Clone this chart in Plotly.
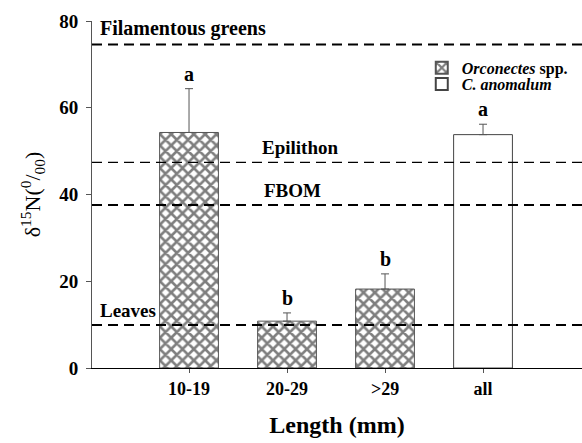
import plotly.graph_objects as go

# ---- data ----
categories = ["10-19", "20-29", ">29", "all"]
orc_values = [54.3, 10.8, 18.2]
orc_err = [10.1, 1.9, 3.5]
can_values = [53.8]
can_err = [2.4]
sig_letters = ["a", "b", "b", "a"]
ref_names = ["Filamentous greens", "Epilithon", "FBOM", "Leaves"]
ref_values = [74.6, 47.4, 37.6, 9.9]

FONT = "Liberation Serif"
xpos = list(range(len(categories)))

fig = go.Figure()
fig.add_trace(go.Bar(
    x=xpos[:3], y=orc_values, width=0.6,
    name="<b><i>Orconectes</i> spp.</b>", legend="legend",
    marker=dict(color="white", line=dict(color="#555", width=1),
                pattern=dict(shape="x", fgcolor="black", bgcolor="white", size=8, solidity=0.55)),
    error_y=dict(type="data", array=orc_err, arrayminus=[0]*3, color="#555", thickness=1, width=4),
))
fig.add_trace(go.Bar(
    x=xpos[3:], y=can_values, width=0.6,
    name="<b><i>C. anomalum</i></b>", legend="legend2",
    marker=dict(color="white", line=dict(color="#444", width=1)),
    error_y=dict(type="data", array=can_err, arrayminus=[0], color="#555", thickness=1, width=4),
))

# reference lines
ref_widths = [2, 1.3, 2, 2]
for v, w in zip(ref_values, ref_widths):
    fig.add_shape(type="line", xref="paper", x0=0, x1=1, yref="y", y0=v, y1=v,
                  line=dict(color="black", width=w, dash="10px,6px"), layer="above")

ref_label_x = [-0.93, 0.72, 0.74, -0.93]
ref_label_size = [20, 19, 19, 19]
for name, v, lx, sz in zip(ref_names, ref_values, ref_label_x, ref_label_size):
    fig.add_annotation(x=lx, y=v, xref="x", yref="y", text=name, showarrow=False,
                       xanchor="left", yanchor="bottom", yshift=2,
                       font=dict(family=FONT, size=sz, color="black", weight="bold"))

# significance letters
tops = [v + e for v, e in zip(orc_values + can_values, orc_err + can_err)]
for x, t, letter in zip(xpos, tops, sig_letters):
    fig.add_annotation(x=x, y=t, xref="x", yref="y", text=letter, showarrow=False,
                       yanchor="bottom", yshift=2,
                       font=dict(family=FONT, size=20, color="black", weight="bold"))

legend_common = dict(xanchor="left", yanchor="middle", bgcolor="rgba(0,0,0,0)",
                     font=dict(family=FONT, size=16, color="black"), itemsizing="constant")

fig.update_layout(
    width=582, height=443,
    margin=dict(l=92, r=0, t=21, b=75, autoexpand=False),
    paper_bgcolor="white", plot_bgcolor="white",
    barmode="overlay",
    showlegend=True,
    legend=dict(x=0.673, y=0.865, **legend_common),
    legend2=dict(x=0.673, y=0.818, **legend_common),
    xaxis=dict(range=[-0.99, 4.01], tickvals=xpos, ticktext=categories, automargin=False,
               showgrid=False, zeroline=False, showline=True, linecolor="black", linewidth=1,
               ticks="outside", ticklen=4, tickcolor="#555",
               tickfont=dict(family=FONT, size=18, color="black", weight="bold"),
               title=dict(text="Length (mm)", standoff=18,
                          font=dict(family=FONT, size=24, color="black", weight="bold"))),
    yaxis=dict(range=[0, 80], tickvals=[0, 20, 40, 60, 80], automargin=False,
               showgrid=False, zeroline=False, showline=True, linecolor="#555", linewidth=1,
               ticks="outside", ticklen=5, tickcolor="#555", ticklabelstandoff=4,
               tickfont=dict(family=FONT, size=19, color="black", weight="bold"),
               title=dict(text="δ<sup>15</sup>N(<sup>0</sup>/<sub>00</sub>)", standoff=12,
                          font=dict(family=FONT, size=22, color="black"))),
)

fig.write_html("out.html", config={"displayModeBar": False},
               post_script="document.body.style.margin='0';")
